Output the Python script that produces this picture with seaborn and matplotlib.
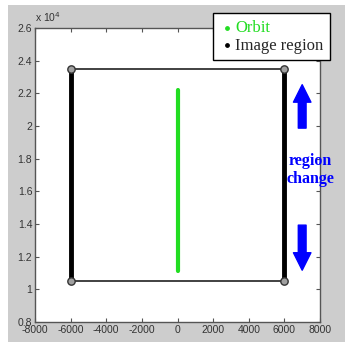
import numpy as np
import pandas as pd
import matplotlib
matplotlib.use("Agg")
import matplotlib.pyplot as plt
import seaborn as sns
from matplotlib.patches import Rectangle

# data
orbit_x = [0, 0]
orbit_y = [11100, 22200]
region_x = [-6000, 6000]
region_y = [10500, 23500]
up_arrow = [(7000, 19700), (7000, 22700)]
down_arrow = [(7000, 14100), (7000, 11000)]
xticks = [-8000, -6000, -4000, -2000, 0, 2000, 4000, 6000, 8000]
yticks = [0.8, 1, 1.2, 1.4, 1.6, 1.8, 2, 2.2, 2.4, 2.6]
ytick_labels = ["0.8", "1", "1.2", "1.4", "1.6", "1.8", "2", "2.2", "2.4", "2.6"]

sns.set_style("ticks")
plt.rcParams["font.family"] = ["Liberation Sans", "DejaVu Sans"]

fig = plt.figure(figsize=(3.45, 3.44), dpi=100, facecolor="white")
fig.patches.append(Rectangle((8 / 345, 2 / 344), 337 / 345, 337 / 344,
                             transform=fig.transFigure, facecolor="#cdcdcd",
                             edgecolor="none", zorder=-10))
ax = fig.add_axes([35 / 345, 22 / 344, 285 / 345, 294 / 344])
ax.set_facecolor("white")

# image region outline
rx, ry = region_x, region_y
box = pd.DataFrame({"x": [rx[0], rx[1], rx[1], rx[0], rx[0]],
                    "y": [ry[0], ry[0], ry[1], ry[1], ry[0]]})
sns.lineplot(data=box, x="x", y="y", sort=False, estimator=None,
             color="#333333", lw=1.3, ax=ax)
for xv in rx:
    vl = pd.DataFrame({"x": [xv, xv], "y": ry})
    sns.lineplot(data=vl, x="x", y="y", sort=False, estimator=None,
                 color="black", lw=3.5, ax=ax)
corners = pd.DataFrame({"x": [rx[0], rx[1], rx[0], rx[1]],
                        "y": [ry[0], ry[0], ry[1], ry[1]]})
sns.scatterplot(data=corners, x="x", y="y", s=28, facecolor="#a0a0a0",
                edgecolor="#333333", linewidth=1, ax=ax, zorder=5)

# orbit
orb = pd.DataFrame({"x": orbit_x, "y": orbit_y})
sns.lineplot(data=orb, x="x", y="y", sort=False, estimator=None,
             color="#22dd22", lw=3, ax=ax)

# arrows
for tail, tip in [up_arrow, down_arrow]:
    ax.annotate("", xy=tip, xytext=tail,
                arrowprops=dict(arrowstyle="simple,head_length=0.9,head_width=0.9,tail_width=0.4",
                                color="blue", mutation_scale=14))
ax.text(7450, 17300, "region\nchange", color="blue", fontweight="bold",
        family="Liberation Serif", fontsize=11.5, ha="center", va="center",
        linespacing=1.1, clip_on=False)

ax.set_xlim(-8000, 8000)
ax.set_ylim(8000, 26000)
ax.set_xticks(xticks)
ax.set_xticklabels([str(t) for t in xticks])
ax.set_yticks([t * 1e4 for t in yticks])
ax.set_yticklabels(ytick_labels)
ax.tick_params(direction="in", length=3, width=0.8, colors="#555555",
               labelcolor="#333333", labelsize=7.5, top=True, right=True, pad=2)
for sp in ax.spines.values():
    sp.set_color("#555555")
    sp.set_linewidth(1)
ax.set_xlabel("")
ax.set_ylabel("")
ax.text(0.0, 1.012, r"x 10$^4$", transform=ax.transAxes, fontsize=7.5,
        color="#333333", ha="left", va="bottom")

# legend
h1 = ax.scatter([], [], s=6, color="#22dd22")
h2 = ax.scatter([], [], s=6, color="black")
leg = ax.legend([h1, h2], ["Orbit", "Image region"], loc="upper right",
                bbox_to_anchor=(1.035, 1.05), prop={"family": "Liberation Serif", "size": 12},
                frameon=True, fancybox=False, edgecolor="black", framealpha=1,
                handletextpad=0.1, handlelength=0.8, borderpad=0.4, labelspacing=0.1,
                borderaxespad=0)
leg.get_frame().set_linewidth(1)
leg.get_texts()[0].set_color("#22dd22")

fig.savefig("out.png", dpi=100, facecolor="white")
